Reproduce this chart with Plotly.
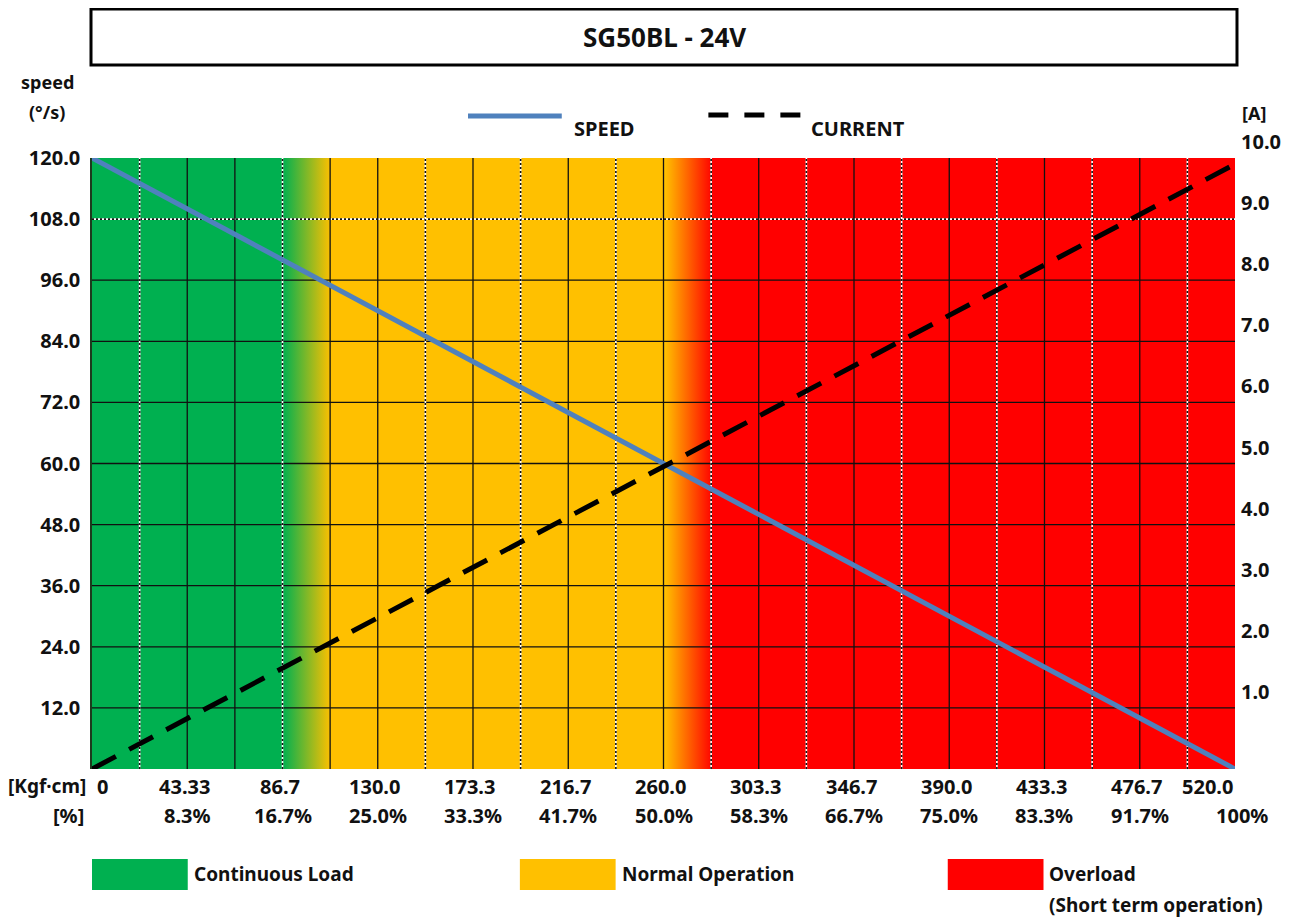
import plotly.graph_objects as go

# ---------------- data ----------------
torque_ticks = [0, 43.33, 86.7, 130.0, 173.3, 216.7, 260.0, 303.3, 346.7, 390.0, 433.3, 476.7, 520.0]
torque_text = ["0", "43.33", "86.7", "130.0", "173.3", "216.7", "260.0", "303.3", "346.7", "390.0", "433.3", "476.7", "520.0"]
percent_text = ["", "8.3%", "16.7%", "25.0%", "33.3%", "41.7%", "50.0%", "58.3%", "66.7%", "75.0%", "83.3%", "91.7%", "100%"]

speed_ticks = [12, 24, 36, 48, 60, 72, 84, 96, 108, 120]
speed_text = ["12.0", "24.0", "36.0", "48.0", "60.0", "72.0", "84.0", "96.0", "108.0", "120.0"]
current_ticks = [1, 2, 3, 4, 5, 6, 7, 8, 9, 10]
current_text = ["1.0", "2.0", "3.0", "4.0", "5.0", "6.0", "7.0", "8.0", "9.0", "10.0"]

speed_torque = [0, 520]
speed_values = [120, 0]
current_torque = [0, 520]
current_values = [0, 9.9]

# vertical grid lines (every 1/24 of full scale) and their style
vgrid_x = [21.67, 43.33, 65.0, 86.67, 108.33, 130.0, 151.67, 173.33, 195.0, 216.67, 238.33,
           260.0, 281.67, 303.33, 325.0, 346.67, 368.33, 390.0, 411.67, 433.33, 455.0, 476.67, 498.33]
vgrid_style = ["dot", "solid", "solid", "dot", "solid", "solid", "dot", "solid", "dot", "solid", "dot",
               "solid", "dot", "solid", "dot", "solid", "dot", "solid", "dot", "solid", "dot", "solid", "dot"]
hgrid_y = [12, 24, 36, 48, 60, 72, 84, 96, 108]
hgrid_style = ["solid", "solid", "solid", "solid", "solid", "solid", "solid", "solid", "dot"]

# zone boundaries (torque) for background colouring
zone_green_end = 86.67
zone_orange_start = 108.33
zone_orange_end = 260.0
zone_red_start = 281.67
x_max = 520.0
y_max = 120.0

GREEN = "#00B050"
ORANGE = "#FFC000"
RED = "#FF0000"
BLUE = "#4F81BD"
FONT = "Noto Sans"
TXT = "#111111"

fig = go.Figure()

# gradient background
cs = [[0, GREEN], [zone_green_end / x_max, GREEN], [zone_orange_start / x_max, ORANGE],
      [zone_orange_end / x_max, ORANGE], [zone_red_start / x_max, RED], [1, RED]]
fig.add_trace(go.Scatter(
    x=[0, x_max, x_max, 0, 0], y=[0, 0, y_max, y_max, 0],
    mode="lines", line=dict(width=0), fill="toself",
    fillgradient=dict(type="horizontal", colorscale=cs, start=0, stop=x_max),
    hoverinfo="skip", showlegend=False))


def add_vlines(xs, color, width, dash):
    X, Y = [], []
    for x in xs:
        X += [x, x, None]
        Y += [0, y_max, None]
    fig.add_trace(go.Scatter(x=X, y=Y, mode="lines", line=dict(color=color, width=width, dash=dash),
                             hoverinfo="skip", showlegend=False))


def add_hlines(ys, color, width, dash):
    X, Y = [], []
    for y in ys:
        X += [0, x_max, None]
        Y += [y, y, None]
    fig.add_trace(go.Scatter(x=X, y=Y, mode="lines", line=dict(color=color, width=width, dash=dash),
                             hoverinfo="skip", showlegend=False))


v_solid = [x for x, s in zip(vgrid_x, vgrid_style) if s == "solid"]
v_dot = [x for x, s in zip(vgrid_x, vgrid_style) if s == "dot"]
h_solid = [y for y, s in zip(hgrid_y, hgrid_style) if s == "solid"]
h_dot = [y for y, s in zip(hgrid_y, hgrid_style) if s == "dot"]

add_hlines(h_solid, "#111111", 1.3, "solid")
add_hlines(h_dot, "white", 1.6, "solid")
add_hlines(h_dot, "#111111", 1.6, "2px,2px")
add_vlines(v_solid, "#111111", 1.3, "solid")
add_vlines(v_dot, "white", 1.6, "solid")
add_vlines(v_dot, "#111111", 1.6, "2px,2px")

# data lines
fig.add_trace(go.Scatter(x=current_torque, y=current_values, yaxis="y2", mode="lines",
                         line=dict(color="black", width=5, dash="27px,15px"),
                         name="CURRENT", showlegend=False))
fig.add_trace(go.Scatter(x=speed_torque, y=speed_values, mode="lines",
                         line=dict(color=BLUE, width=5), name="SPEED", showlegend=False))

# ---------------- layout ----------------
OFF = 8  # page body margin
W, H = 1293 - OFF, 920 - OFF
# plot area in reference pixel coordinates
PL, PR, PT, PB = 92, 1238, 158, 769
L, R, T, B = PL - OFF, W - (PR - OFF), PT - OFF, H - (PB - OFF)
PW, PH = PR - PL, PB - PT


def px_x(px):
    return (px - PL) / PW


def px_y(py):
    return (PB - py) / PH


fig.update_layout(
    width=W, height=H,
    margin=dict(l=L, r=R, t=T, b=B, pad=0),
    paper_bgcolor="white", plot_bgcolor="white",
    font=dict(family=FONT, color=TXT, size=19, weight="bold"),
    xaxis=dict(range=[0, x_max], showgrid=False, zeroline=False, showticklabels=False,
               showline=False, ticks=""),
    yaxis=dict(range=[0, y_max], tickvals=speed_ticks, ticktext=speed_text, showgrid=False,
               zeroline=False, showline=True, linecolor="#1d3a1d", linewidth=1.5,
               ticks="", ticklabelstandoff=6,
               tickfont=dict(family=FONT, size=20, color=TXT, weight="bold")),
    yaxis2=dict(range=[0, 10], overlaying="y", side="right", tickvals=current_ticks,
                ticktext=current_text, showgrid=False, zeroline=False, showline=False,
                ticks="", ticklabelshift=-16, ticklabelstandoff=5,
                tickfont=dict(family=FONT, size=20, color=TXT, weight="bold")),
    showlegend=False,
)

shapes = []
annotations = []


def note(x, y, text, size=20, xanchor="center", xref="paper", xshift=0):
    annotations.append(dict(xref=xref, yref="paper", x=x, y=y, text=text, showarrow=False,
                            xanchor=xanchor, yanchor="middle", xshift=xshift,
                            font=dict(family=FONT, size=size, color=TXT, weight="bold")))


# title box
shapes.append(dict(type="rect", xref="paper", yref="paper",
                   x0=px_x(91), x1=px_x(1240), y0=px_y(65), y1=px_y(9),
                   line=dict(color="black", width=3), fillcolor="white"))
note(px_x(666), px_y(37), "SG50BL - 24V", size=26)

# axis titles
note(px_x(47), px_y(82), "speed", size=18)
note(px_x(47), px_y(112), "(°/s)", size=18)
note(px_x(1243), px_y(113), "[A]", size=18, xanchor="left")

# top legend
shapes.append(dict(type="line", xref="paper", yref="paper", x0=px_x(469), x1=px_x(563),
                   y0=px_y(116), y1=px_y(116), line=dict(color=BLUE, width=5)))
note(px_x(573), px_y(128), "SPEED", xanchor="left")
shapes.append(dict(type="line", xref="paper", yref="paper", x0=px_x(710), x1=px_x(803),
                   y0=px_y(115), y1=px_y(115), line=dict(color="black", width=5, dash="20px,16px")))
note(px_x(811), px_y(128), "CURRENT", xanchor="left")

# x tick label rows
row1_shift = {0: 10, 12: -28}
row2_shift = {12: 7}
for i, (xv, t1, t2) in enumerate(zip(torque_ticks, torque_text, percent_text)):
    note(xv, px_y(786), t1, xref="x", xshift=row1_shift.get(i, -3))
    if t2:
        note(xv, px_y(815), t2, xref="x", xshift=row2_shift.get(i, 0))
note(px_x(88), px_y(786), "[Kgf·cm]", size=19, xanchor="right")
note(px_x(86), px_y(815), "[%]", xanchor="right")

# bottom zone legend
zones = [("Continuous Load", GREEN, 92), ("Normal Operation", ORANGE, 521), ("Overload", RED, 950)]
for label, col, x0 in zones:
    shapes.append(dict(type="rect", xref="paper", yref="paper", x0=px_x(x0), x1=px_x(x0 + 96),
                       y0=px_y(890), y1=px_y(859), line=dict(width=0), fillcolor=col))
    note(px_x(x0 + 100), px_y(874), label, size=19, xanchor="left")
note(px_x(1050), px_y(905), "(Short term operation)", size=19, xanchor="left")

fig.update_layout(shapes=shapes, annotations=annotations)
fig.write_html("out.html")
